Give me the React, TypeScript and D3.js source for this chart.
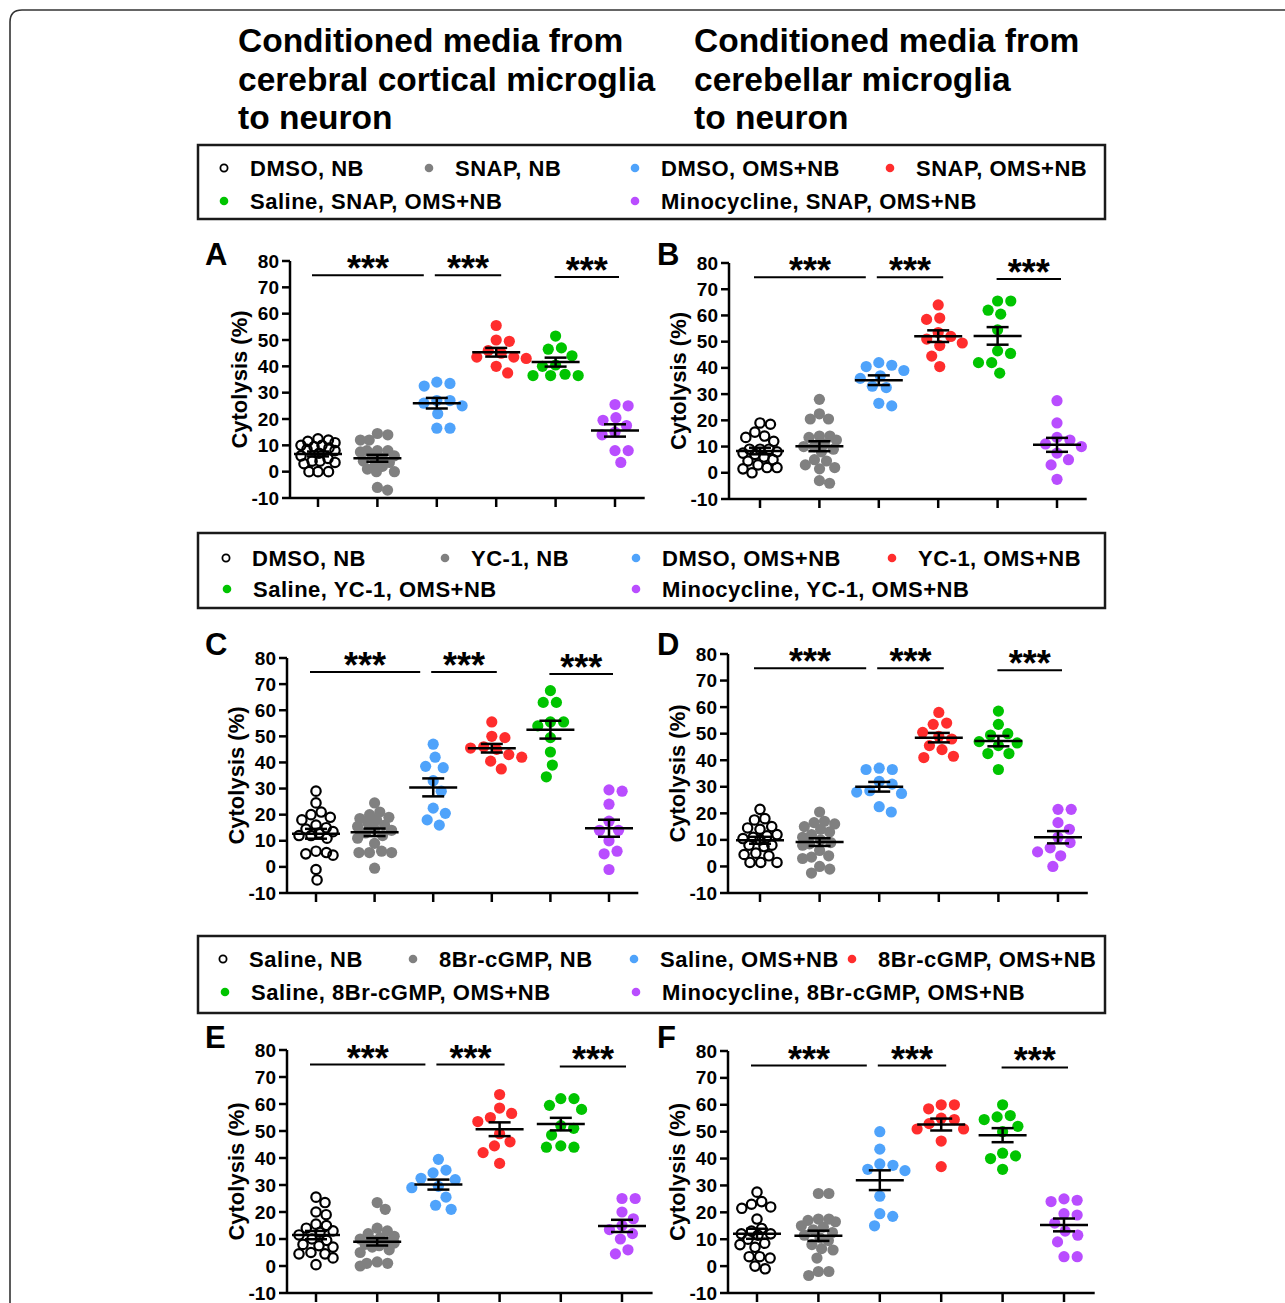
import React from 'react';
import * as d3 from 'd3';

// ---- data ----
const titleLeft = ['Conditioned media from', 'cerebral cortical microglia', 'to neuron'];
const titleRight = ['Conditioned media from', 'cerebellar microglia', 'to neuron'];

const legendSNAP = ['DMSO, NB', 'SNAP, NB', 'DMSO, OMS+NB', 'SNAP, OMS+NB', 'Saline, SNAP, OMS+NB', 'Minocycline, SNAP, OMS+NB'];
const legendYC1 = ['DMSO, NB', 'YC-1, NB', 'DMSO, OMS+NB', 'YC-1, OMS+NB', 'Saline, YC-1, OMS+NB', 'Minocycline, YC-1, OMS+NB'];
const legendCGMP = ['Saline, NB', '8Br-cGMP, NB', 'Saline, OMS+NB', '8Br-cGMP, OMS+NB', 'Saline, 8Br-cGMP, OMS+NB', 'Minocycline, 8Br-cGMP, OMS+NB'];

const groupColors = ['none', '#808080', '#4fa3fb', '#ff2d2d', '#00c400', '#b94dff'];
const yTicks = [-10, 0, 10, 20, 30, 40, 50, 60, 70, 80];
const sigPairs: [number, number][] = [[0, 2], [2, 3], [4, 5]];
const sigLabel = '***';

const panelA = [
  [12, 12.5, 11, 11.5, 10, 10, 9.5, 9, 8.5, 8, 7, 6, 5, 4, 4, 3.5, 0, 0, 0, 3],
  [14.5, 14, 12, 12, 8, 8, 8, 7.5, 6, 6, 5, 4, 3.5, 3, 1, 0, 0, -6, -7, 2],
  [34, 33.5, 32.5, 27, 27, 26, 25, 22, 16.5, 16.5],
  [55.5, 50, 49.5, 46, 45, 43.5, 43.5, 43, 40, 37.5],
  [51.5, 47, 46.5, 44, 40.5, 40, 37, 36.5, 36.5, 36.5],
  [25.5, 25, 20.5, 19.5, 17.5, 15, 14, 8, 8, 3.5],
];
const panelB = [
  [19, 18.5, 15.5, 14, 13.5, 12, 9, 9, 9, 8, 7.5, 7, 6, 5, 4.5, 3, 2, 2, 1.5, 0],
  [28, 22.5, 20.5, 20.5, 14, 14, 13.5, 12.5, 11, 10, 10, 9, 8, 5, 4.5, 2, 1.5, -3, -4, 3],
  [42, 41, 40.5, 39, 37, 36, 33, 32.5, 26.5, 25.5],
  [64, 59, 58.5, 53.5, 52, 51, 49.5, 48.5, 44.5, 40.5],
  [65.5, 65.5, 62, 60.5, 54.5, 46.5, 45.5, 42, 42, 38],
  [27.5, 19, 13.5, 12.5, 11, 10, 7.5, 5, 3, -2.5],
];
const panelC = [
  [29, 24.5, 21, 20, 19, 18, 16, 15, 14.5, 13.5, 13, 12, 12, 6, 5, 4.5, 5.5, 11, -1, -5],
  [24.5, 21, 20, 19, 18.5, 18, 17, 16, 15.5, 14.5, 14, 13, 12, 11, 9, 6, 5.5, 5.5, 5.5, -0.5],
  [47, 42, 38.5, 38, 33, 29, 22.5, 20.5, 18, 16],
  [55.5, 50, 49.5, 46, 45.5, 45, 43, 42, 40.5, 37.5],
  [67.5, 63, 63, 55.5, 55.5, 54, 49.5, 44, 39, 34.5],
  [29.5, 29, 24, 17.5, 14, 14, 10, 6, 5, -1],
];
const panelD = [
  [21.5, 18, 17.5, 15, 14.5, 14, 12, 11.5, 11, 10.5, 10, 8, 8, 7.5, 5, 4.5, 1.5, 1.5, 1.5, 4],
  [20.5, 17, 16.5, 16, 15, 14, 13, 12, 11, 10, 9, 8.5, 8, 6, 4, 3.5, 3, -1, -2.5, 0],
  [37, 36.5, 36.5, 32, 31, 28.5, 28, 27.5, 22.5, 20.5],
  [58, 54, 53.5, 50.5, 49, 48, 45.5, 44, 41.5, 41],
  [58.5, 53.5, 50, 49.5, 47, 46.5, 45.5, 42.5, 42.5, 36.5],
  [21.5, 21.5, 16.5, 14, 11, 9, 7, 5.5, 4, 0],
];
const panelE = [
  [25.5, 23.5, 20, 19, 15.5, 15, 14, 13, 12.5, 11.5, 10, 9.5, 8, 7.5, 5, 4.5, 4.5, 3, 0.5, 7],
  [23.5, 21, 14, 13, 12, 11, 10.5, 10, 9.5, 9, 8.5, 8, 7.5, 7, 6, 5, 1.5, 1, 1, 0],
  [39.5, 35.5, 34.5, 32.5, 32, 29.5, 29, 25.5, 22.5, 21],
  [63.5, 58.5, 56.5, 55, 53.5, 49, 46, 44.5, 42, 38],
  [62, 62, 59.5, 58, 52, 51, 48.5, 44.5, 44, 44],
  [25, 25, 20, 17.5, 15, 13.5, 12, 10, 6, 4.5],
];
const panelF = [
  [27.5, 24, 23, 22, 21.5, 17.5, 14, 13, 12, 11.5, 10, 8.5, 8, 7, 3.5, 3.5, 3, 0, -1, 12],
  [27, 27, 17.5, 17.5, 17, 16.5, 15, 14.5, 13.5, 12.5, 11.5, 10.5, 9.5, 8, 6.5, 6, 3, -2, -2, -3.5],
  [50, 43.5, 38, 37.5, 36, 35.5, 26, 19.5, 18.5, 15],
  [60, 60, 58.5, 55, 54.5, 53, 51, 51, 46.5, 37],
  [60, 56, 55.5, 54.5, 52, 50, 42, 41, 40, 36],
  [25, 24.5, 24, 19.5, 19, 16, 13, 11.5, 9, 3.5, 3.5],
];

// ---- layout ----
const W = 1285;
const H = 1303;
const FONT = '"Liberation Sans", Arial, Helvetica, sans-serif';

const panels = [
  { letter: 'A', data: panelA, ax: 290, x0: 318, x5: 615, yTop: 261, yBot: 498, lx: 205, ly: 265 },
  { letter: 'B', data: panelB, ax: 729, x0: 760, x5: 1057, yTop: 263, yBot: 499, lx: 657, ly: 265 },
  { letter: 'C', data: panelC, ax: 287, x0: 316, x5: 609, yTop: 658, yBot: 893, lx: 205, ly: 655 },
  { letter: 'D', data: panelD, ax: 728, x0: 760, x5: 1058, yTop: 654, yBot: 893, lx: 657, ly: 655 },
  { letter: 'E', data: panelE, ax: 287, x0: 316, x5: 622, yTop: 1050, yBot: 1293, lx: 205, ly: 1048 },
  { letter: 'F', data: panelF, ax: 728, x0: 757, x5: 1064, yTop: 1051, yBot: 1293, lx: 657, ly: 1048 },
];

const legends = [
  { labels: legendSNAP, y: 145, h: 74, row1: [250, 455, 661, 916], row2: [250, 661], rows: [168, 201] },
  { labels: legendYC1, y: 533, h: 75, row1: [252, 471, 662, 918], row2: [253, 662], rows: [558, 589] },
  { labels: legendCGMP, y: 936, h: 77, row1: [249, 439, 660, 878], row2: [251, 662], rows: [959, 992] },
];

// GraphPad-like column scatter: each point as near the centre as it fits,
// dense columns are kept narrow and allowed to overlap
function swarm(ys: number[], D: number, maxOff: number) {
  const order = d3.range(ys.length).sort((a, b) => ys[a] - ys[b]);
  const placed: { x: number; y: number }[] = [];
  const out: number[] = new Array(ys.length);
  const minDist = (c: number, yi: number) =>
    placed.length ? d3.min(placed, p => Math.hypot(p.x - c, p.y - yi)) ?? Infinity : Infinity;
  for (const i of order) {
    const yi = ys[i];
    const cands = [0];
    for (const p of placed) {
      const dy = Math.abs(p.y - yi);
      if (dy < D) {
        const dx = Math.sqrt(D * D - dy * dy);
        cands.push(p.x + dx, p.x - dx);
      }
    }
    cands.sort((a, b) => Math.abs(a) - Math.abs(b));
    let cx = cands.find(c => Math.abs(c) <= maxOff && minDist(c, yi) >= D - 1e-6);
    if (cx === undefined) {
      const grid = d3.range(-maxOff, maxOff + 0.01, 1);
      cx = grid.reduce((best, c) => {
        const a = minDist(c, yi), b = minDist(best, yi);
        return a > b + 1e-6 || (Math.abs(a - b) < 1e-6 && Math.abs(c) < Math.abs(best)) ? c : best;
      }, 0);
    }
    placed.push({ x: cx, y: yi });
    out[i] = cx;
  }
  return out;
}

function Panel({ p }: { p: typeof panels[number] }) {
  const x = d3.scalePoint<number>().domain(d3.range(6)).range([p.x0, p.x5]);
  const step = x.step();
  const y = d3.scaleLinear().domain([-10, 80]).range([p.yBot, p.yTop]);
  const xEnd = p.x5 + step / 2;
  const sigY = [y(74.6), y(74.6), y(73.9)];
  const sigPad: [number, number][] = [[-6, -13], [-2, 5], [-1, 4]];

  return (
    <g>
      <text x={p.lx} y={p.ly} fontSize={31} fontWeight="bold" fontFamily={FONT}>{p.letter}</text>
      <text
        transform={`translate(${p.ax - 43},${(p.yTop + p.yBot) / 2}) rotate(-90)`}
        textAnchor="middle" fontSize={22} fontWeight="bold" fontFamily={FONT}
      >Cytolysis (%)</text>

      {/* axes */}
      <line x1={p.ax} x2={p.ax} y1={y(80)} y2={y(-10)} stroke="#000" strokeWidth={2.5} />
      <line x1={p.ax} x2={xEnd} y1={y(-10)} y2={y(-10)} stroke="#000" strokeWidth={2.5} />
      {yTicks.map(t => (
        <g key={t}>
          <line x1={p.ax - 8} x2={p.ax} y1={y(t)} y2={y(t)} stroke="#000" strokeWidth={2.5} />
          <text x={p.ax - 11} y={y(t) + 6.5} textAnchor="end" fontSize={19} fontWeight="bold" fontFamily={FONT}>{t}</text>
        </g>
      ))}
      {d3.range(6).map(g => (
        <line key={g} x1={x(g)} x2={x(g)} y1={y(-10)} y2={y(-10) + 9} stroke="#000" strokeWidth={2.5} />
      ))}

      {/* points */}
      {p.data.map((vals, g) => {
        const ys = vals.map(v => y(v));
        const dense = vals.length > 12;
        const dx = swarm(ys, dense ? 10.5 : 13.2, dense ? 17 : 30);
        const open = g === 0;
        return (
          <g key={g}>
            {vals.map((v, i) => (
              <circle key={i} cx={(x(g) ?? 0) + dx[i]} cy={ys[i]}
                r={open ? 4.7 : 5.6}
                fill={open ? 'none' : groupColors[g]}
                stroke={open ? '#000' : 'none'} strokeWidth={open ? 2.2 : 0} />
            ))}
          </g>
        );
      })}

      {/* mean +/- SEM */}
      {p.data.map((vals, g) => {
        const m = d3.mean(vals) ?? 0;
        const sem = (d3.deviation(vals) ?? 0) / Math.sqrt(vals.length);
        const cx = x(g) ?? 0;
        return (
          <g key={g} stroke="#000" strokeWidth={2.5}>
            <line x1={cx - 24} x2={cx + 24} y1={y(m)} y2={y(m)} />
            <line x1={cx - 11} x2={cx + 11} y1={y(m + sem)} y2={y(m + sem)} />
            <line x1={cx - 11} x2={cx + 11} y1={y(m - sem)} y2={y(m - sem)} />
            <line x1={cx} x2={cx} y1={y(m + sem)} y2={y(m - sem)} />
          </g>
        );
      })}

      {/* significance */}
      {sigPairs.map(([a, b], k) => {
        const x1 = (x(a) ?? 0) + sigPad[k][0];
        const x2 = (x(b) ?? 0) + sigPad[k][1];
        return (
          <g key={k}>
            <line x1={x1} x2={x2} y1={sigY[k]} y2={sigY[k]} stroke="#000" strokeWidth={2} />
            <text x={(x1 + x2) / 2} y={sigY[k] + 6} textAnchor="middle" fontSize={36} fontWeight="bold" fontFamily={FONT}>{sigLabel}</text>
          </g>
        );
      })}
    </g>
  );
}

function Legend({ l }: { l: typeof legends[number] }) {
  const pos = [
    [l.row1[0], l.rows[0]], [l.row1[1], l.rows[0]], [l.row1[2], l.rows[0]], [l.row1[3], l.rows[0]],
    [l.row2[0], l.rows[1]], [l.row2[1], l.rows[1]],
  ];
  return (
    <g>
      <rect x={198} y={l.y} width={907} height={l.h} fill="#fff" stroke="#1a1a1a" strokeWidth={2.5} />
      {l.labels.map((lab, i) => (
        <g key={i}>
          <circle cx={pos[i][0] - 26} cy={pos[i][1]} r={i === 0 ? 3.6 : 4.3}
            fill={i === 0 ? 'none' : groupColors[i]} stroke={i === 0 ? '#000' : 'none'} strokeWidth={1.8} />
          <text x={pos[i][0]} y={pos[i][1] + 8} fontSize={22} letterSpacing={0.5} fontWeight="bold" fontFamily={FONT}>{lab}</text>
        </g>
      ))}
    </g>
  );
}

export default function App() {
  return (
    <div style={{ position: 'absolute', left: 0, top: 0, width: W, height: H, background: '#fff' }}>
      <svg width={W} height={H} viewBox={`0 0 ${W} ${H}`} style={{ display: 'block' }}>
        <rect width={W} height={H} fill="#fff" />
        <path d={`M10,${H + 20} L10,22 Q10,10 22,10 L${W + 20},10`} fill="none" stroke="#333" strokeWidth={1.6} />
        {[titleLeft, titleRight].map((lines, k) => (
          <g key={k}>
            {lines.map((t, i) => (
              <text key={i} x={k === 0 ? 238 : 694} y={52 + i * 38.7} fontSize={33.5} fontWeight="bold" fontFamily={FONT}>{t}</text>
            ))}
          </g>
        ))}
        {legends.map((l, i) => <Legend key={i} l={l} />)}
        {panels.map(p => <Panel key={p.letter} p={p} />)}
      </svg>
    </div>
  );
}
